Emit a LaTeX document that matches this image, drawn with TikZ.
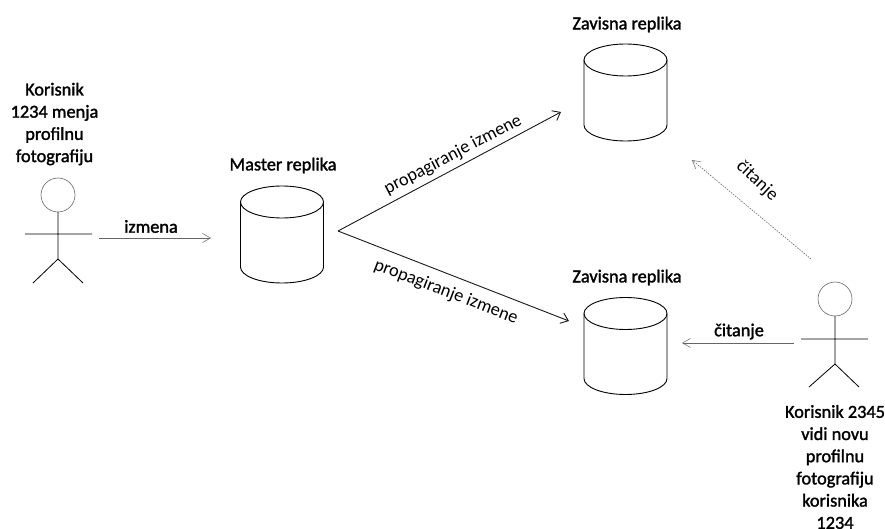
\documentclass[tikz,border=0pt]{standalone}
\usepackage{fontspec}
\setmainfont{Carlito}
\newfontfamily\lblbold[RawFeature={embolden=1.6}]{Carlito}
\usetikzlibrary{arrows.meta}
\newcommand{\dbshape}[1]{%
  \draw[dbline] (#1.north) ++(0,16) ellipse [x radius=41.5, y radius=16];
  \draw[dbline] (#1.north west) ++(0,16) -- ++(0,65) arc [start angle=180, end angle=0, x radius=41.5, y radius=16] -- ++(0,-65);
}
\tikzset{
  x=1pt,y=-1pt,
  dbstore/.style={shape=rectangle,minimum width=83pt,minimum height=97pt,inner sep=0pt,outer sep=0pt},
  dbline/.style={draw=black,line width=0.9pt},
  boldlbl/.style={font=\fontsize{18.3pt}{22.2pt}\selectfont\lblbold,align=center,inner sep=0pt,text=black},
  plainlbl/.style={font=\fontsize{18.3pt}{22pt}\selectfont,inner sep=0pt,text=black},
  head/.style={shape=circle,draw=black!60,line width=0.6pt,minimum size=34pt,inner sep=0pt,outer sep=0pt},
  limb/.style={draw=black,line width=0.8pt},
  strongarrow/.style={draw=black!90,line width=0.9pt,-{Straight Barb[length=7pt,width=11pt,line width=0.9pt]}},
  softarrow/.style={draw=black!60,line width=0.6pt,-{Straight Barb[length=8pt,width=9pt,line width=0.5pt]}},
  dotarrow/.style={softarrow,dash pattern=on 1.5pt off 1.2pt}
}
\begin{document}
\begin{tikzpicture}
\useasboundingbox (0,0) rectangle (885,529);
% stores
\node[dbstore] (master) at (282,234.5) {};
\node[dbstore] (slaveA) at (625.5,92.5) {};
\node[dbstore] (slaveB) at (625.5,346) {};
\dbshape{master}
\dbshape{slaveA}
\dbshape{slaveB}
% store captions
\node[boldlbl] (masterT) at (283,165.5) {Master replika};
\node[boldlbl] (slaveAT) at (627,24.5) {Zavisna replika};
\node[boldlbl] (slaveBT) at (627,277.5) {Zavisna replika};
% actor 1
\node[head] (headA) at (58,195) {};
\coordinate (hipA) at (58,259);
\coordinate (armAl) at (25,234);
\coordinate (armAr) at (92,234);
\coordinate (legAl) at (33,283);
\coordinate (legAr) at (83,283);
\draw[limb] (headA) -- (hipA) (armAl) -- (armAr) (legAl) -- (hipA) -- (legAr);
\node[boldlbl] (userA) at (54.5,124) {Korisnik\\1234 menja\\profilnu\\fotografiju};
% actor 2
\node[head] (headB) at (835,299) {};
\coordinate (hipB) at (835,364);
\coordinate (armBl) at (801,339);
\coordinate (armBr) at (868,339);
\coordinate (legBl) at (809,387);
\coordinate (legBr) at (859,387);
\draw[limb] (headB) -- (hipB) (armBl) -- (armBr) (legBl) -- (hipB) -- (legBr);
\node[boldlbl] (userB) at (835,467) {Korisnik 2345\\vidi novu\\profilnu\\fotografiju\\korisnika\\1234};
% connector ends
\coordinate (e1s) at (99,238);
\coordinate (e1t) at (211,238);
\coordinate (fork) at (338,231);
\coordinate (e2t) at (561,112);
\coordinate (e3t) at (569,321);
\coordinate (e4s) at (811,259);
\coordinate (e4t) at (692,160);
\coordinate (e5s) at (794,343);
\coordinate (e5t) at (682,343);
\draw[softarrow] (e1s) -- (e1t);
\draw[strongarrow] (fork) -- (e2t);
\draw[strongarrow] (fork) -- (e3t);
\draw[dotarrow] (e4s) -- (e4t);
\draw[softarrow] (e5s) -- (e5t);
% connector labels
\node[boldlbl] (l1) at (151,226.5) {izmena};
\node[plainlbl,rotate=27.5] (l2) at (453,155) {propagiranje izmene};
\node[plainlbl,rotate=-21] (l3) at (446,292) {propagiranje izmene};
\node[plainlbl,rotate=-43] (l4) at (757,181) {čitanje};
\node[boldlbl] (l5) at (739,331.5) {čitanje};
\end{tikzpicture}
\end{document}
